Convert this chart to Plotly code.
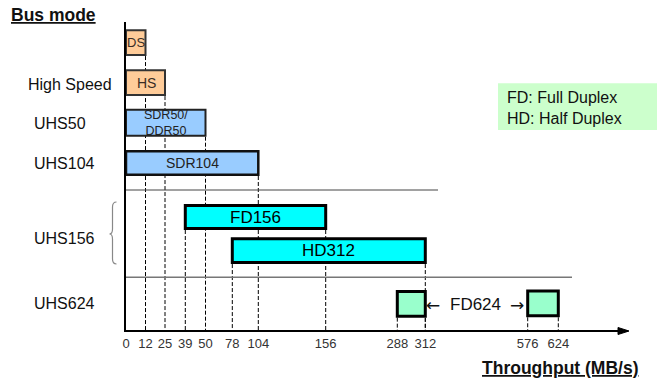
import numpy as np
import plotly.graph_objects as go

# ---------------- data ----------------
tick_values = [0, 12, 25, 39, 50, 78, 104, 156, 288, 312, 576, 624]
tick_labels = ["0", "12", "25", "39", "50", "78", "104", "156", "288", "312", "576", "624"]

bar_names = ["DS", "HS", "SDR50/DDR50", "SDR104", "FD156", "HD312", "FD624 (a)", "FD624 (b)"]
bar_start = [0, 0, 0, 0, 39, 78, 288, 576]
bar_end = [12, 25, 50, 104, 156, 312, 312, 624]

mode_labels = ["High Speed", "UHS50", "UHS104", "UHS156", "UHS624"]
legend_lines = ["FD: Full Duplex", "HD: Half Duplex"]

# ---------------- broken (piecewise) axis scale: value -> screen position ----------------
SCALE_POS = [126, 145.5, 165, 185.3, 205.5, 232.3, 258.3, 325.7, 397.3, 425.3, 527.7, 558.3]


def sx(v):
    return float(np.interp(v, tick_values, SCALE_POS))


# plot geometry (axis units == pixels)
L, R, T, B = 126, 628, 22, 330
W, H = 657, 383


def px(x):
    return (x - L) / (R - L)


def py(y):
    return (B - y) / (B - T)


FONT = "Liberation Sans, Arial, sans-serif"

# bar styling (rows)
row_center = [42.7, 82.7, 122.7, 163, 217, 250.7, 303.8, 303.4]
row_outer = [26.7, 26.7, 28, 26, 26, 26.7, 27.7, 27.7]
fills = ["#FFCC99", "#FFCC99", "#99CCFF", "#99CCFF", "#00FFFF", "#00FFFF", "#99FFCC", "#99FFCC"]
lws = [2, 2, 2, 2.5, 3, 3, 3, 3]
lcols = ["#333333", "#333333", "#222222", "#111111", "#000000", "#000000", "#000000", "#000000"]

base = [sx(s) for s in bar_start]
length = [sx(e) - sx(s) for s, e in zip(bar_start, bar_end)]
widths = [o - w for o, w in zip(row_outer, lws)]

fig = go.Figure()
fig.add_trace(go.Bar(
    orientation="h",
    y=row_center,
    x=length,
    base=base,
    width=widths,
    marker=dict(color=fills, line=dict(color=lcols, width=lws)),
    hoverinfo="skip",
    showlegend=False,
))

shapes = []
# dashed guide lines from each bar edge down to the axis
for s, e, c, o in zip(bar_start, bar_end, row_center, row_outer):
    for v in (s, e):
        if v == 0:
            continue
        shapes.append(dict(type="line", xref="x", yref="y", x0=sx(v), x1=sx(v),
                           y0=c + o / 2, y1=B, layer="below",
                           line=dict(color="black", width=1, dash="4px,2px")))

# separator lines
shapes.append(dict(type="line", xref="x", yref="y", x0=L, x1=438, y0=190, y1=190,
                   layer="below", line=dict(color="#444444", width=1)))
shapes.append(dict(type="line", xref="x", yref="y", x0=L, x1=572, y0=277.3, y1=277.3,
                   layer="below", line=dict(color="#777777", width=1.5)))

# legend box
shapes.append(dict(type="rect", xref="paper", yref="paper", x0=px(498), x1=px(657),
                   y0=py(130), y1=py(83.3), fillcolor="#CCFFCC", line=dict(width=0), layer="below"))

# brace
bx0, bx1, bt, bm, bb = 116.5, 112.5, 202, 234, 264
brace = (f"M {px(bx0)} {py(bt)} Q {px(bx1)} {py(bt)} {px(bx1)} {py(bt + 5)} "
         f"L {px(bx1)} {py(bm - 5)} Q {px(bx1)} {py(bm)} {px(109.5)} {py(bm)} "
         f"Q {px(bx1)} {py(bm)} {px(bx1)} {py(bm + 5)} "
         f"L {px(bx1)} {py(bb - 5)} Q {px(bx1)} {py(bb)} {px(bx0)} {py(bb)}")
shapes.append(dict(type="path", xref="paper", yref="paper", path=brace,
                   line=dict(color="#888888", width=1.2)))

# arrow head on x axis
tri = (f"M {px(618)} {py(B - 2.5)} L {px(629)} {py(B + 1)} L {px(618)} {py(B + 4.5)} Z")
shapes.append(dict(type="path", xref="paper", yref="paper", path=tri,
                   fillcolor="black", line=dict(color="black", width=1)))

ann = []


def text(t, x, y, size, color="#111111", xanchor="center", xref="x", yref="y", family=FONT):
    ann.append(dict(text=t, x=x, y=y, xref=xref, yref=yref, xanchor=xanchor,
                    yanchor="middle", showarrow=False,
                    font=dict(family=family, size=size, color=color)))


# bar labels
def bc(i):
    return sx(bar_start[i]) + (sx(bar_end[i]) - sx(bar_start[i])) / 2


text("DS", bc(0), row_center[0], 13, "#3a2d25")
text("HS", bc(1) + 1, row_center[1], 14, "#3a2d25")
text("SDR50/<br>DDR50", bc(2), 123.2, 12.5, "#222222")
text("SDR104", bc(3), row_center[3], 14, "#222222")
text("FD156", bc(4), row_center[4], 17, "#000000")
text("HD312", bc(5), row_center[5], 17, "#000000")
text("FD624", 475.5, 304, 17, "#111111")
text("←", 432.5, 304.5, 17, "#111111", family="DejaVu Sans")
text("→", 516.5, 304.5, 17, "#111111", family="DejaVu Sans")

# mode labels on the left
label_x = [26, 32, 32, 32, 32]
label_y = [84, 123, 163.3, 238.3, 303.3]
for t, x, y in zip(mode_labels, label_x, label_y):
    text(t, px(x), py(y), 16, "#111111", xanchor="left", xref="paper", yref="paper")

# legend text
text(legend_lines[0], px(505), py(97.5), 16, "#111111", xanchor="left", xref="paper", yref="paper")
text(legend_lines[1], px(505), py(118.3), 16, "#111111", xanchor="left", xref="paper", yref="paper")

# titles
text("<b><u>Bus mode</u></b>", px(9), py(15), 17.5, "#111111", xanchor="left", xref="paper", yref="paper")
text("<b><u>Throughput (MB/s)</u></b>", px(480), py(368), 17.5, "#111111", xanchor="left",
     xref="paper", yref="paper")

fig.update_layout(
    width=W, height=H,
    margin=dict(l=L, r=W - R, t=T, b=H - B, pad=0),
    paper_bgcolor="white", plot_bgcolor="white",
    barmode="overlay",
    shapes=shapes, annotations=ann,
    xaxis=dict(range=[L, R], showline=True, linecolor="black", linewidth=2,
               showgrid=False, zeroline=False, ticks="",
               tickvals=[sx(v) for v in tick_values], ticktext=tick_labels,
               tickfont=dict(family=FONT, size=13, color="#333333"), fixedrange=True),
    yaxis=dict(range=[B, T], showline=True, linecolor="black", linewidth=2,
               showgrid=False, zeroline=False, showticklabels=False, ticks="",
               fixedrange=True),
)

fig.write_html("out.html", config={"displayModeBar": False},
               post_script="document.body.style.margin='0';document.body.style.overflow='hidden';")
